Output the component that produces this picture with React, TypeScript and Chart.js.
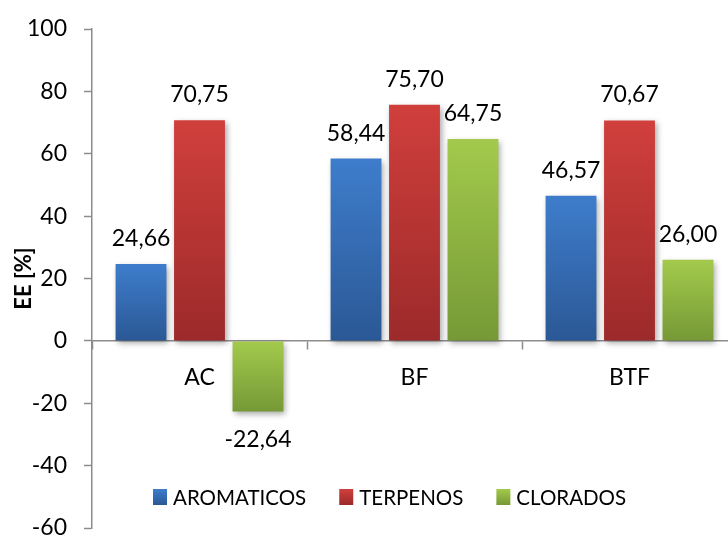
import React, { useEffect, useRef } from "react";
import { Chart, registerables } from "chart.js";

Chart.register(...registerables);

const categories = ["AC", "BF", "BTF"];
const seriesNames = ["AROMATICOS", "TERPENOS", "CLORADOS"];
const aromaticos = [24.66, 58.44, 46.57];
const terpenos = [70.75, 75.7, 70.67];
const clorados = [-22.64, 64.75, 26.0];
const yMin = -60;
const yMax = 100;
const yStep = 20;
const yTitle = "EE [%]";

const FONT = 'Lato, "Open Sans", sans-serif';
const palette = [
  { top: "#3E7DCC", bottom: "#2B5895" },
  { top: "#D03F3C", bottom: "#9C2A2A" },
  { top: "#A3CA4C", bottom: "#769936" },
];

function gradFill(idx: number) {
  return (ctx: any) => {
    const chart = ctx.chart;
    const area = chart.chartArea;
    const ys = chart.scales?.y;
    if (!area || !ys || ctx.type !== "data") return palette[idx].top;
    const v = ctx.raw as number;
    const a = ys.getPixelForValue(v);
    const b = ys.getPixelForValue(0);
    const t = Math.min(a, b);
    const bt = Math.max(a, b);
    if (!isFinite(t) || !isFinite(bt) || bt - t < 1) return palette[idx].top;
    const g = chart.ctx.createLinearGradient(0, t, 0, bt);
    g.addColorStop(0, palette[idx].top);
    g.addColorStop(1, palette[idx].bottom);
    return g;
  };
}

const fmt = (v: number) => v.toFixed(2).replace(".", ",");

const shadowPlugin = {
  id: "barShadow",
  beforeDatasetsDraw(chart: any) {
    const c = chart.ctx;
    c.save();
    c.shadowColor = "rgba(0,0,0,0.35)";
    c.shadowBlur = 6;
    c.shadowOffsetX = 2;
    c.shadowOffsetY = 3;
  },
  afterDatasetsDraw(chart: any) {
    chart.ctx.restore();
  },
};

const labelPlugin = {
  id: "valueLabels",
  afterDatasetsDraw(chart: any) {
    const c = chart.ctx;
    c.save();
    c.font = `23px ${FONT}`;
    c.fillStyle = "#000";
    c.textAlign = "center";
    c.textBaseline = "alphabetic";
    chart.data.datasets.forEach((ds: any, di: number) => {
      const meta = chart.getDatasetMeta(di);
      meta.data.forEach((el: any, i: number) => {
        const v = ds.data[i] as number;
        if (v >= 0) c.fillText(fmt(v), el.x, el.y - 18);
        else c.fillText(fmt(v), el.x, el.y + 36);
      });
    });
    c.restore();
  },
};

const legendPlugin = {
  id: "innerLegend",
  afterDraw(chart: any) {
    const c = chart.ctx;
    const area = chart.chartArea;
    c.save();
    c.font = `20.5px ${FONT}`;
    c.textBaseline = "middle";
    c.textAlign = "left";
    const box = 14;
    const gapBoxText = 6;
    const gapItems = 33;
    const cy = 497;
    let x = area.left + 61;
    chart.data.datasets.forEach((ds: any, i: number) => {
      const g = c.createLinearGradient(0, cy - 8, 0, cy + 8);
      g.addColorStop(0, palette[i].top);
      g.addColorStop(1, palette[i].bottom);
      c.fillStyle = g;
      c.fillRect(x, cy - 8, box, 16);
      x += box + gapBoxText;
      c.fillStyle = "#000";
      c.fillText(ds.label, x, cy + 1);
      x += c.measureText(ds.label).width + gapItems;
    });
    c.restore();
  },
};

export default function App() {
  const ref = useRef<HTMLCanvasElement | null>(null);
  useEffect(() => {
    if (!ref.current) return;
    const seriesData = [aromaticos, terpenos, clorados];
    const chart = new Chart(ref.current, {
      type: "bar",
      data: {
        labels: categories,
        datasets: seriesNames.map((name, i) => ({
          label: name,
          data: seriesData[i],
          backgroundColor: gradFill(i),
          borderWidth: 0,
          barPercentage: 0.87,
          categoryPercentage: 0.816,
        })),
      },
      options: {
        animation: false,
        responsive: false,
        devicePixelRatio: 1,
        layout: { padding: { left: 0, top: 29, right: 5, bottom: 17 } },
        plugins: {
          legend: { display: false },
          tooltip: { enabled: false },
        },
        scales: {
          x: {
            type: "category",
            position: { y: 0 } as any,
            offset: true,
            grid: {
              display: true,
              drawOnChartArea: false,
              drawTicks: true,
              tickLength: 8,
              tickWidth: 1.5,
              color: "#8C8C8C",
              offset: true,
            },
            border: { display: true, color: "#8C8C8C", width: 1.5 },
            ticks: {
              font: { family: FONT, size: 23 },
              color: "#000",
              padding: 15,
              maxRotation: 0,
            },
          },
          y: {
            min: yMin,
            max: yMax,
            afterFit: (scale: any) => {
              scale.width = 92;
              scale.paddingTop = 0;
              scale.paddingBottom = 0;
            },
            ticks: {
              stepSize: yStep,
              font: { family: FONT, size: 23 },
              color: "#000",
              padding: 17,
            },
            grid: {
              display: true,
              drawOnChartArea: false,
              drawTicks: true,
              tickLength: 8,
              tickWidth: 1.5,
              color: "#8C8C8C",
            },
            border: { display: true, color: "#8C8C8C", width: 1.5 },
            title: {
              display: true,
              text: yTitle,
              font: { family: FONT, size: 22, weight: "bold" },
              color: "#000",
              padding: { top: 11, bottom: 0 },
            },
          },
        },
      },
      plugins: [shadowPlugin, labelPlugin, legendPlugin],
    });
    return () => chart.destroy();
  }, []);

  return (
    <div
      style={{
        position: "fixed",
        left: 0,
        top: 0,
        width: 742,
        height: 545,
        background: "#fff",
        overflow: "hidden",
      }}
    >
      <canvas ref={ref} width={742} height={545} style={{ display: "block" }} />
    </div>
  );
}
